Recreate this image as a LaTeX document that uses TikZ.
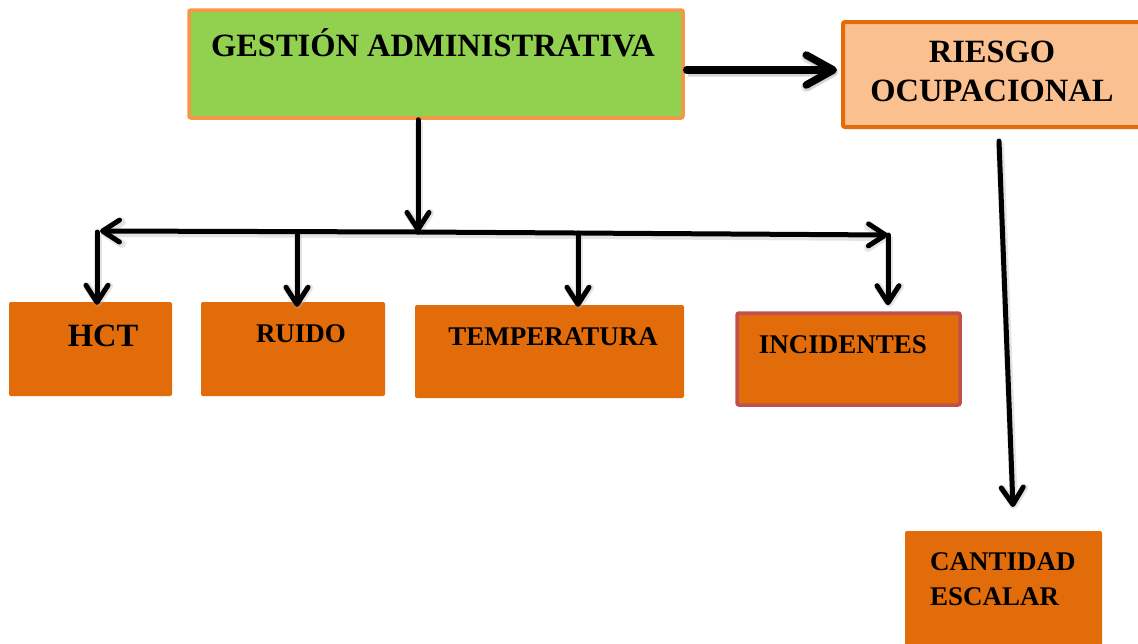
\documentclass[tikz,border=0pt]{standalone}
\usepackage{fontspec}
\setmainfont{Liberation Serif}
\usetikzlibrary{arrows.meta}
\definecolor{leafgreen}{HTML}{92D050}
\definecolor{lightorange}{HTML}{F79646}
\definecolor{peach}{HTML}{FAC090}
\definecolor{darkorange}{HTML}{E36C09}
\definecolor{boxorange}{HTML}{E26B0A}
\definecolor{brickred}{HTML}{C0504D}
\tikzset{
  box/.style={rectangle, rounded corners=2pt, inner sep=0pt, fill=boxorange},
  lbl/.style={inner sep=0pt, font=\bfseries\fontsize{27}{32}\selectfont},
  biglbl/.style={inner sep=0pt, font=\bfseries\fontsize{32.5}{38}\selectfont},
  arr/.style={line width=5pt, line cap=round, black,
    -{Straight Barb[length=17pt, width=22pt, line cap=round, line join=round]},
    preaction={draw=black!30, line width=8pt, opacity=0.35,
      transform canvas={shift={(1pt,-2pt)}}}},
  bigarr/.style={arr, line width=7.5pt,
    -{Straight Barb[length=27pt, width=30pt, line cap=round, line join=round]},
    preaction={draw=black!30, line width=10pt, opacity=0.35,
      transform canvas={shift={(1pt,-2pt)}}}}
}
\begin{document}
\begin{tikzpicture}[x=1pt, y=-1pt]
  \useasboundingbox (0,0) rectangle (1138,643);

  % top level boxes
  \node[box, fill=leafgreen, draw=lightorange, line width=3.5pt,
        minimum width=494pt, minimum height=108pt] (g) at (436,64) {};
  \node[biglbl] (gt) at (433,43) {GESTIÓN ADMINISTRATIVA};

  \node[box, fill=peach, draw=darkorange, line width=4pt,
        minimum width=300pt, minimum height=105pt] (r) at (993,74.5) {};
  \node[biglbl, align=center] (rt) at (992,71) {RIESGO\\[1pt]OCUPACIONAL};

  % second level boxes
  \node[box, minimum width=163pt, minimum height=94pt] (hct) at (90.5,349) {};
  \node[biglbl] (hctt) at (103,336) {HCT};

  \node[box, minimum width=184pt, minimum height=94pt] (ru) at (293,349) {};
  \node[lbl] (rut) at (301,334) {RUIDO};

  \node[box, minimum width=269pt, minimum height=93pt] (te) at (549.5,351.5) {};
  \node[lbl] (tet) at (553,337) {TEMPERATURA};

  \node[box, draw=brickred, line width=3.5pt,
        minimum width=223pt, minimum height=92pt] (in) at (848.5,359) {};
  \node[lbl] (int) at (843,345) {INCIDENTES};

  \node[box, minimum width=197pt, minimum height=120pt] (ca) at (1003.5,591) {};
  \node[lbl, align=left, anchor=north west] (cat) at (930,552)
    {CANTIDAD\\[3pt]ESCALAR};

  % connectors
  \coordinate (j)  at (418,232);
  \coordinate (bl) at (100,231);
  \coordinate (br) at (888,235);
  \coordinate (rs) at (999,141);
  \coordinate (ce) at (1013,507);

  \draw[bigarr] ([xshift=2pt,yshift=-6pt]g.east) -- ([xshift=-4pt,yshift=4.5pt]r.west);
  \draw[arr] (g.south -| j) -- (j);
  \draw[arr] (j) -- (bl);
  \draw[arr] (j) -- (br);
  \draw[arr] (97,232) -- ([yshift=-3pt]hct.north -| 97,0);
  \draw[arr] (297,232) -- ([yshift=-5pt]ru.north -| 297,0);
  \draw[arr] (578,233) -- ([yshift=-2pt]te.north -| 578,0);
  \draw[arr] (br) -- ([yshift=6pt]in.north -| br);
  \draw[arr] (rs) -- (ce);
\end{tikzpicture}
\end{document}
